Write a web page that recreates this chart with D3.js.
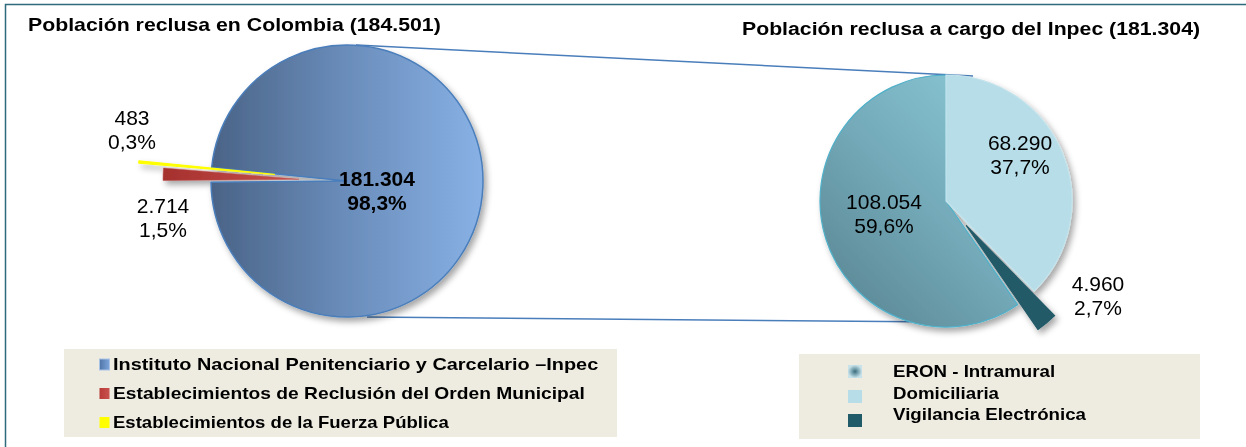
<!DOCTYPE html>
<html><head><meta charset="utf-8">
<script src="https://cdn.jsdelivr.net/npm/d3@7"></script>
<style>body{margin:0;background:#fff}svg{display:block}text{font-family:"Liberation Sans",Arial,sans-serif}</style>
</head><body><svg id="c" width="1246" height="447"></svg>
<script>
// ---- data ----
const leftTitle = "Población reclusa en Colombia";
const rightTitle = "Población reclusa a cargo del Inpec";
const leftCategories = ["Instituto Nacional Penitenciario y Carcelario –Inpec", "Establecimientos de Reclusión del Orden Municipal", "Establecimientos de la Fuerza Pública"];
const leftValues = [181304, 2714, 483];
const rightCategories = ["ERON - Intramural", "Domiciliaria", "Vigilancia Electrónica"];
const rightValues = [108054, 68290, 4960];

// ---- helpers ----
const loc = d3.formatLocale({decimal: ",", thousands: ".", grouping: [3], currency: ["$", ""]});
const fNum = loc.format(",d");
const fPct = loc.format(".1%");
const deg = Math.PI / 180;

const svg = d3.select("#c");
const defs = svg.append("defs");

// horizontally widen bold text (reference text is wider than Arial metrics)
function widen(sel, k) {
  sel.each(function (d, i) {
    const w = this.getComputedTextLength();
    const f = Array.isArray(k) ? k[i] : k;
    d3.select(this).attr("textLength", w * f).attr("lengthAdjust", "spacingAndGlyphs");
  });
}

// drop shadow
const flt = defs.append("filter").attr("id", "sh").attr("x", "-20%").attr("y", "-20%").attr("width", "150%").attr("height", "150%");
flt.append("feDropShadow").attr("dx", 3).attr("dy", 4).attr("stdDeviation", 3).attr("flood-color", "#000").attr("flood-opacity", 0.35);

function linGrad(id, stops, x1, y1, x2, y2, units) {
  const g = defs.append("linearGradient").attr("id", id)
    .attr("x1", x1).attr("y1", y1).attr("x2", x2).attr("y2", y2);
  if (units) g.attr("gradientUnits", units);
  stops.forEach(s => g.append("stop").attr("offset", s[0]).attr("stop-color", s[1]));
  return "url(#" + id + ")";
}

// frame
svg.append("path").attr("d", "M5.5,447 V4.5 H1246").attr("fill", "none").attr("stroke", "#2f6a7c").attr("stroke-width", 1.5);

// ---- geometry ----
const L = {cx: 347, cy: 181, r: 136, start: 275.7 * deg, explode: [0, 48, 73]};
const R = {cx: 946, cy: 201, r: 126, start: 145.4 * deg, explode: [0, 0, 32]};

// connector lines
const conn = svg.append("g").attr("stroke", "#4a7ebb").attr("stroke-width", 1.5).attr("fill", "none");
conn.append("line").attr("x1", L.cx + 9).attr("y1", L.cy - L.r).attr("x2", R.cx + 27).attr("y2", R.cy - R.r + 1);
conn.append("line").attr("x1", L.cx + 20).attr("y1", L.cy + L.r).attr("x2", R.cx).attr("y2", R.cy + R.r - 5);

// ---- left pie ----
const leftFills = [
  linGrad("gInpec", [[0, "#4a6386"], [0.5, "#6a8dbb"], [1, "#88b1e5"]], -L.r, 0, L.r, 0, "userSpaceOnUse"),
  linGrad("gMun", [[0, "#a5302d"], [1, "#c9524e"]], 0, 0, 1, 0),
  "#ffff00"
];
const leftStroke = ["#4a7ebb", "#b84a47", "#ffff00"];
const leftStrokeW = [1.5, 0.5, 1.2];
const pieL = d3.pie().sort(null).startAngle(L.start).endAngle(L.start + 2 * Math.PI)(leftValues);
const arcL = d3.arc().innerRadius(0).outerRadius(L.r);
const gL = svg.append("g").attr("transform", `translate(${L.cx},${L.cy})`).attr("filter", "url(#sh)");
gL.selectAll("path").data(pieL).join("path")
  .attr("transform", (d, i) => {
    const a = (d.startAngle + d.endAngle) / 2, e = L.explode[i];
    return `translate(${e * Math.sin(a)},${-e * Math.cos(a)})`;
  })
  .attr("d", arcL)
  .attr("fill", (d, i) => leftFills[i])
  .attr("stroke", (d, i) => leftStroke[i])
  .attr("stroke-width", (d, i) => leftStrokeW[i])
  .attr("stroke-linejoin", "round");

// ---- right pie ----
const rightFills = [
  linGrad("gEron", [[0, "#57808d"], [0.55, "#73a9b8"], [1, "#88c5d4"]], 0, 1, 0.8, 0),
  "#b7dde8",
  "#215a68"
];
const rightStroke = ["#4fb0c9", "#c4e4ec", "#215a68"];
const pieR = d3.pie().sort(null).startAngle(R.start).endAngle(R.start + 2 * Math.PI)(rightValues);
const arcR = d3.arc().innerRadius(0).outerRadius(R.r);
const gR = svg.append("g").attr("transform", `translate(${R.cx},${R.cy})`).attr("filter", "url(#sh)");
gR.selectAll("path").data(pieR).join("path")
  .attr("transform", (d, i) => {
    const a = (d.startAngle + d.endAngle) / 2, e = R.explode[i];
    return `translate(${e * Math.sin(a)},${-e * Math.cos(a)})`;
  })
  .attr("d", arcR)
  .attr("fill", (d, i) => rightFills[i])
  .attr("stroke", (d, i) => rightStroke[i])
  .attr("stroke-width", 1.2)
  .attr("stroke-linejoin", "round");

// ---- data labels ----
const sumL = d3.sum(leftValues), sumR = d3.sum(rightValues);
const leftLabelPos = [[30, 9, true], [-184, 36, false], [-215, -51.5, false]];
const rightLabelPos = [[-62, 12], [74, -47], [152, 94]];
function label(g, cx, cy, dx, dy, v, tot, bold) {
  const t = g.append("text").attr("text-anchor", "middle").attr("font-size", 21)
    .attr("font-weight", bold ? "bold" : "normal").attr("fill", "#000");
  t.append("tspan").attr("x", cx + dx).attr("y", cy + dy - 4.5).text(fNum(v));
  t.append("tspan").attr("x", cx + dx).attr("y", cy + dy + 19.5).text(fPct(v / tot));
}
const lab = svg.append("g");
leftValues.forEach((v, i) => label(lab, L.cx, L.cy, leftLabelPos[i][0], leftLabelPos[i][1], v, sumL, leftLabelPos[i][2]));
rightValues.forEach((v, i) => label(lab, R.cx, R.cy, rightLabelPos[i][0], rightLabelPos[i][1], v, sumR, false));

// ---- titles ----
const t1 = svg.append("text").attr("x", 28).attr("y", 30.5).attr("font-size", 19).attr("font-weight", "bold")
  .text(`${leftTitle} (${fNum(sumL)})`);
const t2 = svg.append("text").attr("x", 742).attr("y", 35).attr("font-size", 18).attr("font-weight", "bold")
  .text(`${rightTitle} (${fNum(sumR)})`);
widen(t1, 1.12);
widen(t2, 1.18);

// ---- legends ----
svg.append("rect").attr("x", 64).attr("y", 349).attr("width", 553).attr("height", 88).attr("fill", "#eeece1");
svg.append("rect").attr("x", 799).attr("y", 354).attr("width", 401).attr("height", 85).attr("fill", "#eeece1");

const legLMark = [linGrad("lgB", [[0, "#4f74a8"], [1, "#7ea6da"]], 0, 0, 1, 0), linGrad("lgR", [[0, "#b83a37"], [1, "#c9524e"]], 0, 0, 1, 0), "#ffff00"];
const legL = svg.append("g");
leftCategories.forEach((c, i) => {
  const yb = 370 + i * 29;
  legL.append("rect").attr("x", 99.5).attr("y", yb - 11).attr("width", 10).attr("height", 11)
    .attr("fill", legLMark[i]).attr("stroke", i === 0 ? "#a9c3e6" : "none").attr("stroke-width", 1);
  legL.append("text").attr("x", 113).attr("y", yb).attr("font-size", 17).attr("font-weight", "bold").text(c);
});
widen(legL.selectAll("text"), [1.17, 1.13, 1.09]);

const eronMark = defs.append("radialGradient").attr("id", "lgE");
eronMark.append("stop").attr("offset", 0).attr("stop-color", "#3e6c7a");
eronMark.append("stop").attr("offset", 0.5).attr("stop-color", "#7fa9b6");
eronMark.append("stop").attr("offset", 1).attr("stop-color", "#c8e2ea");
const legRMark = ["url(#lgE)", "#b7dde8", "#215a68"];
const legRText = [377, 399, 420];
const legRMarkY = [365, 390, 414];
const legR = svg.append("g");
rightCategories.forEach((c, i) => {
  legR.append("rect").attr("x", 848).attr("y", legRMarkY[i]).attr("width", 14).attr("height", 13).attr("fill", legRMark[i]);
  legR.append("text").attr("x", 893).attr("y", legRText[i]).attr("font-size", 17).attr("font-weight", "bold").text(c);
});
widen(legR.selectAll("text"), 1.10);
</script></body></html>
